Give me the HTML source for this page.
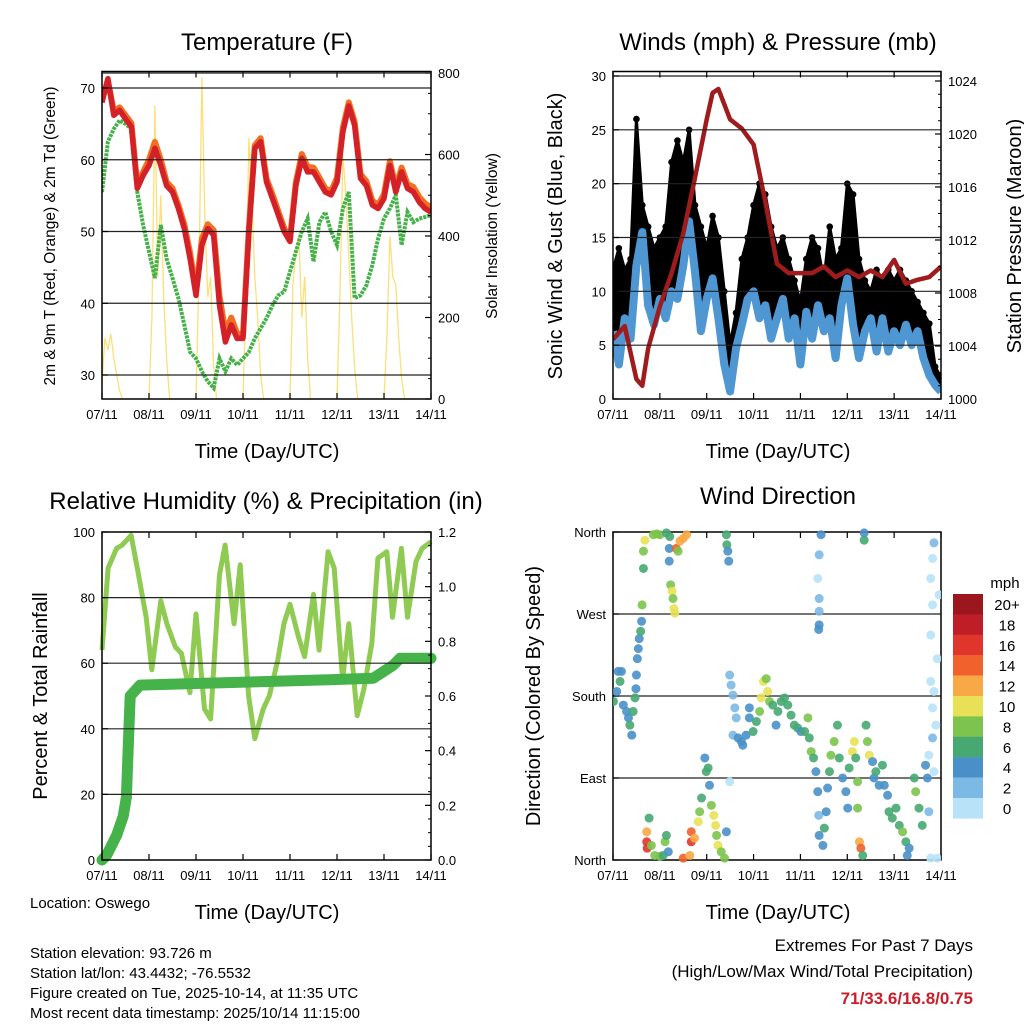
<!DOCTYPE html>
<html><head><meta charset="utf-8"><style>
html,body{margin:0;padding:0;background:#fff}
svg{display:block;font-family:"Liberation Sans",Arial,sans-serif}
</style></head><body>
<svg id="c" width="1024" height="1024" viewBox="0 0 1024 1024" xmlns="http://www.w3.org/2000/svg"></svg>
<script>
// ---------- DATA ----------
const dayLabels = ["07/11","08/11","09/11","10/11","11/11","12/11","13/11","14/11"];
// Temperature (3-hourly, step 0.125 day)
const tempRed = [68,71.3,66.2,66.9,65.7,64.6,56,57.8,59.2,61.6,59.2,56.4,55.5,53.2,50.4,46.2,41.1,48.1,50.4,49.5,39.7,34.6,37,35.1,35.1,50,61.6,62.5,56.9,54.6,52.3,50,48.6,56.4,60.2,58.3,58.3,56.9,55.5,55.1,56.9,63.9,67.5,64.8,57.4,56.4,53.7,53.2,54.6,59.2,55.5,58.3,56,55.5,54.1,53.2,52.7];
const tempOrange = [68.5,71,66.8,67.3,66.2,65.1,56.5,58.3,60,62.5,60,56.9,56,53.7,51,47,41.8,49,51,50.2,41,36,38,35.8,35.6,50.5,62,63,57.4,55.2,52.8,50.5,49,56.9,60.8,59,58.9,57.5,56,55.6,57.5,64.5,68,65.3,58,57,54.3,53.7,55.2,59.8,56.1,58.9,56.6,56.2,54.8,53.9,53.4];
const tempDew = [55.5,62.5,64.3,65.5,65,64.3,55.5,50.9,47.2,43.5,50.9,46.2,43.5,40.7,37,33.2,32.3,30.5,29.1,28.2,32.3,30.5,32.3,31.4,32.3,33.2,35.1,36.5,37.9,39.7,41.1,41.6,44.4,47.2,50,51.8,45.8,51.3,52.7,50,48.1,53.2,55.5,40.7,41.1,42.5,45.3,49,51.8,53.2,55.1,48.1,52.7,51.3,51.8,52,52.3];
// Solar insolation (step 0.0625 day)
const solar = [40,150,120,160,100,60,20,0,0,0,0,0,0,0,0,0,
 0,200,720,300,500,250,100,0,0,0,0,0,0,0,0,0,
 0,300,790,450,250,300,80,0,0,0,0,0,0,0,0,0,
 0,250,640,500,300,200,60,0,0,0,0,0,0,0,0,0,
 0,280,360,400,200,300,100,0,0,0,0,0,0,0,0,0,
 0,250,600,500,350,200,80,0,0,0,0,0,0,0,0,0,
 0,150,400,300,280,150,50,0,0,0,0,0,0,0,0,0,0];
// Winds (step 0.125 day)
const windSust = [6.3,3.2,7.5,5.6,12.4,15.5,8.7,6.9,9.3,7.5,10,9.3,12.4,16.5,11.8,6.3,9.3,11.2,7.5,3.2,0.7,4.7,6.9,9.3,10,7.5,8.7,5.6,7.5,9.3,5.6,7.5,3.2,8.1,5.6,8.7,6.3,7.5,3.8,8.7,11.2,6.9,3.8,6.3,7.5,4.4,7.5,4.4,6.3,5,6.9,5,6.3,3.8,2.2,1.3,0.7];
const windGust = [12,14,12,13,26,18,16,14,15,16,22,24,22,25,18,16,14,17,15,10,5,8,13,15,18,20,19,16,14,15,13,11,9,13,15,14,11,16,13,14,20,19,13,11,10,12,11,12,11,12,11,10,9,8,7,3,2];
// Pressure
const presT = [0,0.25,0.5,0.625,0.75,1,1.25,1.5,1.75,2,2.125,2.25,2.5,2.75,3,3.25,3.5,3.75,4,4.25,4.5,4.75,5,5.25,5.5,5.75,6,6.25,6.5,6.75,7];
const presV = [1004.5,1005.5,1001.5,1001,1003.8,1007,1009.5,1012.5,1016.7,1021.1,1023.1,1023.4,1021.1,1020.4,1019.2,1014.9,1010.2,1009.5,1009.5,1009.5,1010,1009.2,1009.7,1009.2,1009.7,1009.2,1010.5,1008.7,1009,1009.2,1010];
// Relative humidity
const rhT = [0,.13,.31,.43,.62,.75,.94,1.06,1.25,1.38,1.56,1.69,1.87,2,2.18,2.31,2.5,2.62,2.81,2.94,3.12,3.25,3.43,3.56,3.74,3.87,4,4.18,4.31,4.5,4.62,4.81,4.94,5.12,5.25,5.43,5.57,5.74,5.87,6.06,6.18,6.37,6.5,6.68,6.81,7];
const rhV = [64,89,95,96,99,89,74,58,79,72,65,63,51,75,46,43,87,96,72,90,50,37,46,50,61,72,78,68,62,81,64,94,89,55,72,44,52,66,92,94,74,95,74,91,95,97];
// Total precipitation (in)
const rainT = [0,0.1,0.31,0.45,0.52,0.56,0.6,0.81,2.09,4.92,5.77,6.2,6.34,7];
const rainV = [0,0.018,0.09,0.16,0.23,0.42,0.6,0.64,0.646,0.66,0.665,0.713,0.738,0.738];
// Wind direction: time (day), direction (deg), speed (mph)
const dirT = [.01,.08,.11,.18,.15,.22,.29,.33,.36,.40,.43,.47,.49,.50,.52,.54,.56,.59,.61,.62,.65,.65,.68,.86,.93,1.0,1.14,1.21,1.20,1.20,1.35,1.43,1.50,1.57,1.39,1.23,1.26,1.28,1.30,1.32,.72,.72,.73,.77,.82,.89,1.0,1.07,1.11,1.14,1.18,1.50,1.64,1.67,1.67,1.74,1.82,1.85,1.89,1.96,1.99,2.03,2.06,2.10,2.15,2.19,2.21,2.24,2.31,2.38,2.42,2.42,2.43,2.45,2.47,2.49,2.52,2.56,2.60,2.63,2.56,2.67,2.74,2.77,2.84,2.91,2.91,2.99,3.06,3.13,3.16,3.21,3.27,3.30,3.34,3.41,3.48,3.52,3.59,3.66,3.73,3.80,3.87,3.94,4.01,4.09,4.16,4.19,4.23,4.28,4.33,4.37,4.39,4.40,4.48,4.51,4.55,4.58,4.62,4.65,4.72,4.79,4.83,4.90,4.97,5.01,5.04,5.11,5.15,5.18,5.22,5.22,5.26,5.29,5.33,5.40,5.43,5.47,5.54,5.57,5.61,5.68,5.75,5.79,5.86,5.89,5.96,6.04,6.11,6.18,6.25,6.28,6.32,6.43,6.46,6.53,6.60,6.67,6.71,6.74,4.44,4.40,4.37,4.40,4.40,4.40,4.39,5.36,5.36,6.85,6.82,6.78,6.96,6.82,6.78,6.92,6.78,6.85,6.82,6.89,6.82,6.74,6.85,6.78,6.92,2.49];
const dirV = [174,185,207,207,196,170,163,156,148,137,163,178,188,203,221,232,243,251,262,280,320,339,351,357,358,357,359,355,342,328,342,350,353,357,339,302,295,287,276,271,31,20,13,46,16,5,4,5,20,27,9,2,5,31,20,24,42,53,68,112,97,101,82,60,49,38,27,16,9,2,31,357,346,339,328,203,192,181,167,156,137,134,130,126,137,156,167,141,152,163,178,196,199,185,174,170,148,163,174,178,170,159,148,145,141,141,156,134,119,112,97,75,49,27,16,35,53,79,97,115,130,148,112,90,75,57,101,119,130,112,86,57,20,13,5,148,130,115,108,90,97,82,104,82,71,53,46,57,38,31,20,5,13,90,75,57,38,104,90,53,357,335,309,287,273,258,253,359,351,348,331,309,291,280,247,221,196,185,167,148,134,115,97,2,2,86];
const dirS = [6,4,4,4,6,4,4,4,6,4,6,6,4,4,4,4,4,6,4,8,6,8,10,8,8,8,6,6,4,4,14,12,12,12,8,8,10,8,10,10,12,16,16,6,8,8,8,6,8,6,4,14,12,14,16,12,10,8,6,4,6,6,4,8,10,10,8,10,8,8,4,6,6,4,4,2,2,2,2,2,2,4,4,4,4,4,4,6,6,8,10,10,8,10,8,6,4,6,6,6,6,6,6,6,4,6,8,6,8,6,4,4,2,4,4,6,4,4,6,8,8,6,6,4,4,4,6,10,10,6,8,8,12,14,6,6,8,10,4,4,6,4,6,4,4,6,6,6,6,8,6,4,4,6,8,6,6,4,4,2,4,2,0,2,2,4,4,4,6,2,0,0,0,0,0,0,0,0,0,0,2,0,0,0,0,0];
const legendLabels = ["20+","18","16","14","12","10","8","6","4","2","0"];
const legendColors = ["#9b161d","#bf1e29","#e0352b","#f0612b","#f8a845","#e8e157","#7cc44e","#47a872","#4a90c8","#7db9e5","#b8e2f8"];

// ---------- HELPERS ----------
const svg = document.getElementById('c');
const NS = "http://www.w3.org/2000/svg";
function mk(tag, attrs, parent){ const e=document.createElementNS(NS,tag); for(const k in attrs) e.setAttribute(k,attrs[k]); (parent||svg).appendChild(e); return e; }
function txt(str, x, y, size, anchor, parent, extra){ const t=mk('text',Object.assign({x:x,y:y,'font-size':size,'text-anchor':anchor||'middle',fill:'#000'},extra||{}),parent); t.textContent=str; return t; }
function lin(d0,d1,p0,p1){ return v => p0 + (v-d0)/(d1-d0)*(p1-p0); }
function pathOf(ts, vs, sx, sy){ return ts.map((t,i)=>(i?'L':'M')+sx(t).toFixed(1)+','+sy(vs[i]).toFixed(1)).join(''); }
function stepT(n, step){ const a=[]; for(let i=0;i<n;i++) a.push(i*step); return a; }

function frame(g, x0,y0,x1,y1, xsc, leftTicks, lsc, rightTicks, rsc, gridVals, minorR){
  gridVals.forEach(v=>{ const l=mk('line',{x1:x0,x2:x1,y1:lsc(v),y2:lsc(v),stroke:'#222','stroke-width':1.2},g);
      });
  const r=mk('rect',{x:x0,y:y0,width:x1-x0,height:y1-y0,fill:'none',stroke:'#000','stroke-width':1.5},g);
   
  dayLabels.forEach((lab,i)=>{ const x=xsc(i);
    mk('line',{x1:x,x2:x,y1:y1,y2:y1-6,stroke:'#000','stroke-width':1.2},g);
    mk('line',{x1:x,x2:x,y1:y0,y2:y0+6,stroke:'#000','stroke-width':1.2},g);
    const t=txt(lab,x,y1+20,13,'middle',g);   });
  leftTicks.forEach(tk=>{ const y=lsc(tk.v); mk('line',{x1:x0,x2:x0+6,y1:y,y2:y,stroke:'#000','stroke-width':1.2},g);
    const t=txt(tk.l,x0-7,y+5,13,'end',g);   });
  rightTicks.forEach(tk=>{ const y=rsc(tk.v); mk('line',{x1:x1,x2:x1-6,y1:y,y2:y,stroke:'#000','stroke-width':1.2},g);
    const t=txt(tk.l,x1+7,y+5,13,'start',g);   });
  (minorR||[]).forEach(v=>{ const y=rsc(v); mk('line',{x1:x1,x2:x1-3,y1:y,y2:y,stroke:'#000','stroke-width':1},g); });
}

// ---------- PANEL 1: TEMPERATURE ----------
(function(){
  const g=mk('g',{});  
  const x0=102,x1=431,y0=71.5,y1=399;
  const sx=lin(0,7,x0,x1), sy=lin(30,70,375,88), sw=lin(0,800,399,73);
  const cp=mk('clipPath',{id:'cp1'},g); mk('rect',{x:x0,y:y0,width:x1-x0,height:y1-y0},cp);
  const dg=mk('g',{'clip-path':'url(#cp1)'},g);
  const s=mk('path',{d:pathOf(stepT(solar.length,0.0625),solar,sx,sw),fill:'none',stroke:'#fbe07a','stroke-width':1.3},dg);
   
  const T=stepT(tempRed.length,0.125);
  const d=mk('path',{d:pathOf(T,tempDew,sx,sy),fill:'none',stroke:'#46b04a','stroke-width':4,'stroke-dasharray':'3 1'},dg);
   
  const o=mk('path',{d:pathOf(T,tempOrange,sx,sy),fill:'none',stroke:'#f26f22','stroke-width':6,'stroke-linejoin':'round'},dg);
   
  const r=mk('path',{d:pathOf(T,tempRed,sx,sy),fill:'none',stroke:'#d42127','stroke-width':5.5,'stroke-linejoin':'round'},dg);
   
  frame(g,x0,y0,x1,y1,sx,[30,40,50,60,70].map(v=>({v:v,l:String(v)})),sy,[0,200,400,600,800].map(v=>({v:v,l:String(v)})),sw,[30,40,50,60,70],[50,100,150,250,300,350,450,500,550,650,700,750]);
  mk('line',{x1:x0,x2:x1,y1:sw(800),y2:sw(800),stroke:'#222','stroke-width':1.2},g);
  let t=txt('Temperature (F)',267,50,24,'middle',g);  
  t=txt('Time (Day/UTC)',267,458,20,'middle',g);  
  t=txt('2m & 9m T (Red, Orange) & 2m Td (Green)',0,0,15.5,'middle',g,{transform:'translate(55,236) rotate(-90)'});  
  t=txt('Solar Insolation (Yellow)',0,0,15.5,'middle',g,{transform:'translate(497,236) rotate(-90)'});  
})();

// ---------- PANEL 2: WINDS ----------
(function(){
  const g=mk('g',{});  
  const x0=613,x1=941,y0=71.5,y1=399;
  const sx=lin(0,7,x0,x1), sy=lin(0,30,399,76), sp=lin(1000,1024,399,81);
  const cp=mk('clipPath',{id:'cp2'},g); mk('rect',{x:x0,y:y0,width:x1-x0,height:y1-y0},cp);
  const dg=mk('g',{'clip-path':'url(#cp2)'},g);
  const T=stepT(windSust.length,0.125);
  let poly=T.map((t,i)=>sx(t).toFixed(1)+','+sy(windGust[i]).toFixed(1));
  for(let i=T.length-1;i>=0;i--) poly.push(sx(T[i]).toFixed(1)+','+sy(windSust[i]).toFixed(1));
  const band=mk('polygon',{points:poly.join(' '),fill:'#000','stroke':'#000','stroke-width':3,'stroke-linejoin':'round'},dg);
   
  T.forEach((t,i)=>{ const c=mk('circle',{cx:sx(t),cy:sy(windGust[i]),r:3.3,fill:'#000'},dg);
      });
  const b=mk('path',{d:pathOf(T,windSust,sx,sy),fill:'none',stroke:'#4f97d3','stroke-width':8,'stroke-linejoin':'round'},dg);
   
  const p=mk('path',{d:pathOf(presT,presV,sx,sp),fill:'none',stroke:'#a01b1b','stroke-width':4.5,'stroke-linejoin':'round'},dg);
   
  frame(g,x0,y0,x1,y1,sx,[0,5,10,15,20,25,30].map(v=>({v:v,l:String(v)})),sy,[1000,1004,1008,1012,1016,1020,1024].map(v=>({v:v,l:String(v)})),sp,[5,10,15,20,25,30],[1001,1002,1003,1005,1006,1007,1009,1010,1011,1013,1014,1015,1017,1018,1019,1021,1022,1023]);
  let t=txt('Winds (mph) & Pressure (mb)',778,50,24,'middle',g);  
  t=txt('Time (Day/UTC)',778,458,20,'middle',g);  
  t=txt('Sonic Wind & Gust (Blue, Black)',0,0,20,'middle',g,{transform:'translate(562,236) rotate(-90)'});  
  t=txt('Station Pressure (Maroon)',0,0,20,'middle',g,{transform:'translate(1021,236) rotate(-90)'});  
})();

// ---------- PANEL 3: HUMIDITY ----------
(function(){
  const g=mk('g',{});  
  const x0=102,x1=431,y0=532,y1=860;
  const sx=lin(0,7,x0,x1), sy=lin(0,100,860,532), sr=lin(0,1.2,860,532);
  const cp=mk('clipPath',{id:'cp3'},g); mk('rect',{x:x0-6,y:y0,width:x1-x0+12,height:y1-y0+6},cp);
  const dg=mk('g',{'clip-path':'url(#cp3)'},g);
  const h=mk('path',{d:pathOf(rhT,rhV,sx,sy),fill:'none',stroke:'#8fcb52','stroke-width':5,'stroke-linejoin':'round'},dg);
   
  const r=mk('path',{d:pathOf(rainT,rainV,sx,sr),fill:'none',stroke:'#45b34a','stroke-width':11,'stroke-linejoin':'round','stroke-linecap':'round'},dg);
   
  frame(g,x0,y0,x1,y1,sx,[0,20,40,60,80,100].map(v=>({v:v,l:String(v)})),sy,[0,0.2,0.4,0.6,0.8,1.0,1.2].map(v=>({v:v,l:v.toFixed(1)})),sr,[20,40,60,80],[0.05,0.1,0.15,0.25,0.3,0.35,0.45,0.5,0.55,0.65,0.7,0.75,0.85,0.9,0.95,1.05,1.1,1.15]);
  let t=txt('Relative Humidity (%) & Precipitation (in)',266,509,24,'middle',g);  
  t=txt('Time (Day/UTC)',267,919,20,'middle',g);  
  t=txt('Percent & Total Rainfall',0,0,20,'middle',g,{transform:'translate(47,696) rotate(-90)'});  
})();

// ---------- PANEL 4: WIND DIRECTION ----------
(function(){
  const g=mk('g',{});  
  const x0=613,x1=941,y0=532,y1=860;
  const sx=lin(0,7,x0,x1), sy=lin(0,360,860,532);
  frame(g,x0,y0,x1,y1,sx,[{v:0,l:'North'},{v:90,l:'East'},{v:180,l:'South'},{v:270,l:'West'},{v:360,l:'North'}],sy,[],sy,[90,180,270],[]);
  const cp=mk('clipPath',{id:'cp4'},g); mk('rect',{x:x0,y:y0-4,width:x1-x0,height:y1-y0+8},cp);
  const dg=mk('g',{'clip-path':'url(#cp4)'},g);
  function col(s){ const idx=Math.min(10,Math.floor(s/2)); return legendColors[10-idx]; }
  dirT.forEach((t,i)=>{ const c=mk('circle',{cx:sx(t),cy:sy(dirV[i]),r:4.5,fill:col(dirS[i]),'fill-opacity':0.9},dg);
      });
  let t=txt('Wind Direction',778,504,24,'middle',g);  
  t=txt('Time (Day/UTC)',778,919,20,'middle',g);  
  t=txt('Direction (Colored By Speed)',0,0,20,'middle',g,{transform:'translate(540,696) rotate(-90)'});  
  const lg=mk('g',{},g);  
  t=txt('mph',1005,588,15,'middle',lg);  
  legendLabels.forEach((lab,i)=>{ const y=594+i*20.4;
    const rct=mk('rect',{x:953,y:y,width:30,height:20.6,fill:legendColors[i]},lg);
     
    const tt=txt(lab,1007,y+16,15,'middle',lg);   });
})();

// ---------- FOOTER ----------
(function(){
  const g=mk('g',{});  
  const lines=[['Location: Oswego',908],['Station elevation: 93.726 m',958],['Station lat/lon: 43.4432; -76.5532',978],['Figure created on Tue, 2025-10-14, at 11:35 UTC',998],['Most recent data timestamp: 2025/10/14 11:15:00',1018]];
  lines.forEach(l=>{ const t=txt(l[0],30,l[1],15,'start',g);   });
  const e=mk('g',{});  
  let t=txt('Extremes For Past 7 Days',973,951,17,'end',e);  
  t=txt('(High/Low/Max Wind/Total Precipitation)',973,977,17,'end',e);  
  t=txt('71/33.6/16.8/0.75',973,1004,17,'end',e,{fill:'#c8202a','font-weight':'bold'});  
})();
</script>
</body></html>
